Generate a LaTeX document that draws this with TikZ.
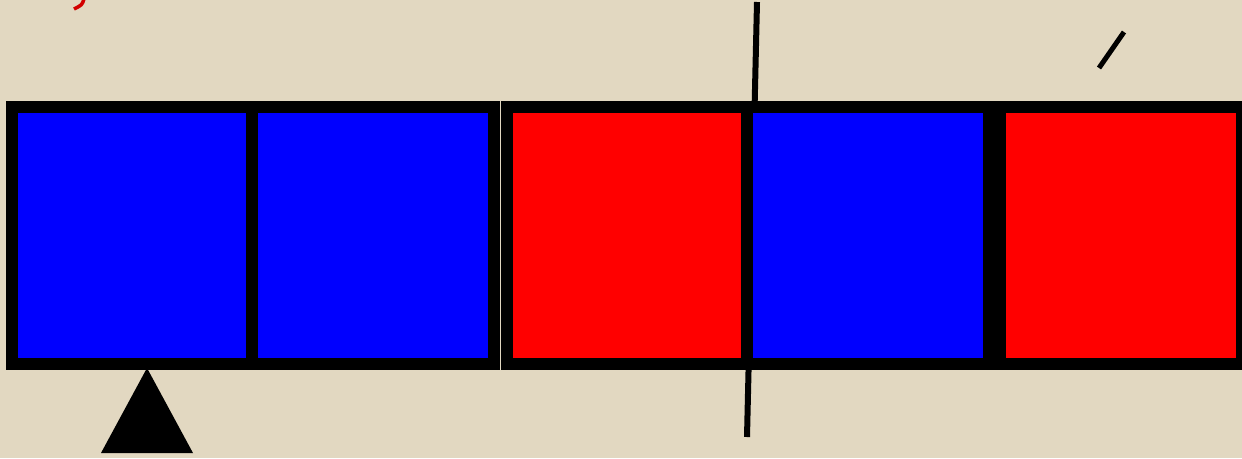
\documentclass[tikz,border=0pt]{standalone}
\definecolor{parch}{RGB}{226,216,193}
\definecolor{cblue}{RGB}{0,0,255}
\definecolor{cred}{RGB}{255,0,0}
\definecolor{cdred}{RGB}{210,0,0}
\begin{document}
\begin{tikzpicture}[x=1pt,y=-1pt,
  frame/.style={fill=black, draw=none, inner sep=0pt, outer sep=0pt, minimum height=269pt},
  cell/.style={draw=none, inner sep=0pt, outer sep=0pt, minimum height=245pt},
  bar/.style={line width=6pt, black},
]
\useasboundingbox (0,0) rectangle (1242,458);
\clip (0,0) rectangle (1242,458);
\fill[parch] (0,0) rectangle (1242,458);
% red stroke at top left
\draw[cdred, line width=3.5pt] (84,-1) .. controls (82,5) .. (74,9);
% long vertical rod
\coordinate (rodtop) at (757,2);
\coordinate (rodbot) at (747,437);
\draw[bar] (rodtop) -- (rodbot);
% short slash
\coordinate (slashA) at (1099,68);
\coordinate (slashB) at (1124,32);
\draw[line width=5pt, black] (slashA) -- (slashB);
% frames
\node[frame, minimum width=494pt] (leftframe) at (253,235.5) {};
\node[frame, minimum width=748pt] (rightframe) at (875,235.5) {};
% cells
\node[cell, fill=cblue, minimum width=228pt] (c1) at (132,235.5) {};
\node[cell, fill=cblue, minimum width=230pt] (c2) at (373,235.5) {};
\node[cell, fill=cred, minimum width=228pt] (c3) at (627,235.5) {};
\node[cell, fill=cblue, minimum width=230pt] (c4) at (868,235.5) {};
\node[cell, fill=cred, minimum width=230pt] (c5) at (1121,235.5) {};
% fulcrum triangle
\fill[black] (147,368) -- (193,453) -- (101,453) -- cycle;
\end{tikzpicture}
\end{document}
